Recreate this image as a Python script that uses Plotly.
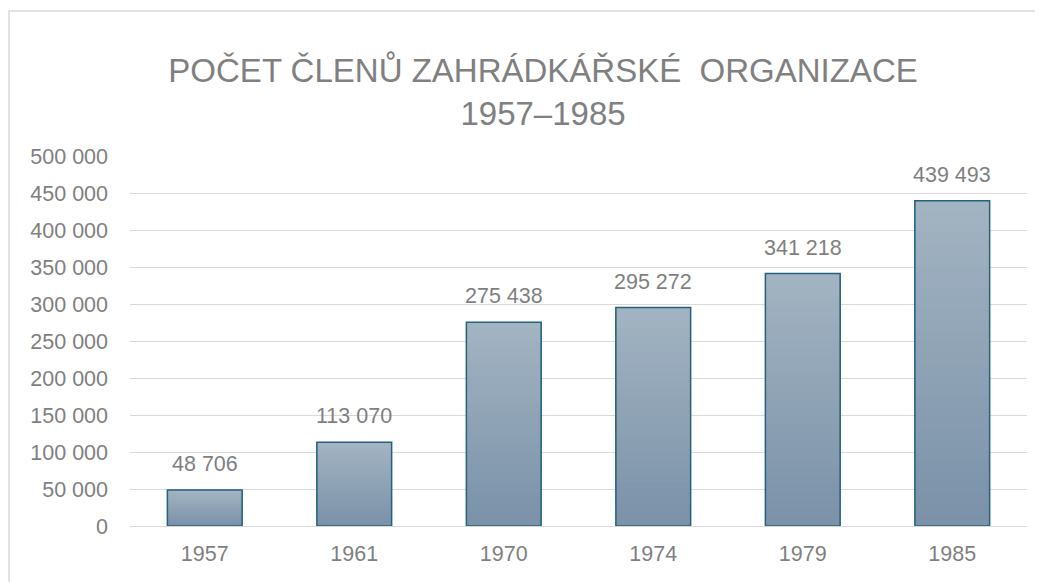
import plotly.graph_objects as go

years = ["1957", "1961", "1970", "1974", "1979", "1985"]
members = [48706, 113070, 275438, 295272, 341218, 439493]
y_ticks = [0, 50000, 100000, 150000, 200000, 250000, 300000, 350000, 400000, 450000, 500000]

TOP = (163, 180, 194)
BOT = (122, 145, 168)
N = 30

fig = go.Figure()
for i in range(N):
    t = (i + 0.5) / N  # 0 bottom -> 1 top
    c = tuple(round(BOT[k] + (TOP[k] - BOT[k]) * t) for k in range(3))
    fig.add_trace(go.Bar(
        x=years, y=[v * (N - i) / N for v in members], base=[v * i / N for v in members],
        marker=dict(color="rgb(%d,%d,%d)" % c, line=dict(width=0)),
        width=0.5, hoverinfo="skip", showlegend=False,
    ))
fig.add_trace(go.Bar(
    x=years, y=members, width=0.5,
    marker=dict(color="rgba(0,0,0,0)", line=dict(color="#24607f", width=1.5)),
    showlegend=False,
))

for idx, v in enumerate(members):
    fig.add_annotation(x=idx, y=v, text=f"{v:,}".replace(",", " "), showarrow=False,
                       yanchor="bottom", yshift=12,
                       font=dict(family="Liberation Sans", size=21.5, color="#7f7f7f"))

fig.update_layout(
    width=1043, height=582, barmode="overlay",
    separators=", ",
    paper_bgcolor="white", plot_bgcolor="white",
    margin=dict(l=122, r=24, t=148, b=64),
    title=dict(text="POČET ČLENŮ ZAHRÁDKÁŘSKÉ  ORGANIZACE<br>1957–1985",
               x=0.513, xref="container", xanchor="center", y=0.872, yanchor="top",
               font=dict(family="Liberation Sans", size=33, color="#808080")),
    xaxis=dict(type="category", categoryorder="array", categoryarray=years, range=[-0.5, 5.5],
               showgrid=False, showline=True, linecolor="#d9d9d9", linewidth=1,
               ticks="", ticklabelstandoff=8,
               tickfont=dict(family="Liberation Sans", size=21.5, color="#7f7f7f")),
    yaxis=dict(range=[0, 500000], tickvals=y_ticks, tickformat=",d", showgrid=True,
               gridcolor="#d9d9d9", gridwidth=1, zeroline=False, showline=False, ticks="",
               ticklabelstandoff=21,
               tickfont=dict(family="Liberation Sans", size=21.5, color="#7f7f7f")),
    shapes=[dict(type="rect", xref="paper", yref="paper", x0=-0.1349, x1=1.03, y0=-0.2, y1=1.392,
                 line=dict(color="#d9d9d9", width=1.5), fillcolor="rgba(0,0,0,0)", layer="below")],
)

fig.write_html("out.html")
